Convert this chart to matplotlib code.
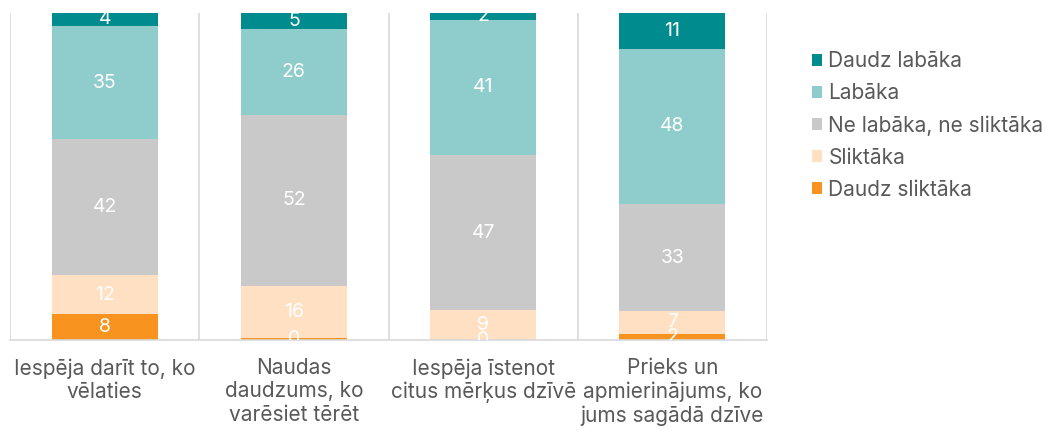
import matplotlib
matplotlib.use("Agg")
import matplotlib.pyplot as plt
from matplotlib.patches import Patch
import numpy as np

plt.rcParams['font.family'] = ['Inter', 'DejaVu Sans']

categories = ["Iespēja darīt to, ko\nvēlaties",
              "Naudas\ndaudzums, ko\nvarēsiet tērēt",
              "Iespēja īstenot\ncitus mērķus dzīvē",
              "Prieks un\napmierinājums, ko\njums sagādā dzīve"]
series_names = ["Daudz sliktāka", "Sliktāka", "Ne labāka, ne sliktāka", "Labāka", "Daudz labāka"]
daudz_sliktaka = [8, 0.5, 0, 2]
sliktaka = [12, 16, 9, 7]
ne_labaka = [42, 52, 47, 33]
labaka = [35, 26, 41, 48]
daudz_labaka = [4, 5, 2, 11]
colors = ["#F7931E", "#FFE0C2", "#C9C9C9", "#8FCCCC", "#008C8F"]

series = [daudz_sliktaka, sliktaka, ne_labaka, labaka, daudz_labaka]
totals = np.sum(np.array(series, dtype=float), axis=0)

fig = plt.figure(figsize=(10.46, 4.30), dpi=100)
ax = fig.add_axes([0.0096, 0.209, 0.7237, 0.761])

x = np.arange(len(categories))
bottom = np.zeros(len(categories))
for vals, col in zip(series, colors):
    vals = np.array(vals, dtype=float)
    h = vals / totals * 100.0  # 100% stacked
    ax.bar(x, h, bottom=bottom, width=0.56, color=col, zorder=2)
    for xi, b, hh, v in zip(x, bottom, h, vals):
        ax.text(xi, b + hh / 2, f"{v:.0f}", ha='center', va='center',
                color='white', fontsize=14, clip_on=True, zorder=3)
    bottom += h

ax.set_xlim(-0.5, len(categories) - 0.5)
ax.set_ylim(0, 100)
for bx in np.arange(-0.5, len(categories), 1.0):
    ax.axvline(bx, color='#D9D9D9', lw=1.2, zorder=1)

for s in ['top', 'left', 'right']:
    ax.spines[s].set_visible(False)
ax.spines['bottom'].set_color('#D9D9D9')
ax.spines['bottom'].set_linewidth(1.2)
ax.set_yticks([])
ax.set_xticks(x)
ax.set_xticklabels(categories, fontsize=15, color='#595959', linespacing=1.2)
ax.tick_params(axis='x', length=0, pad=13)

handles = [Patch(facecolor=c, edgecolor='none') for c in colors[::-1]]
fig.legend(handles, series_names[::-1], loc='upper left',
           bbox_to_anchor=(0.758, 0.925), frameon=False, fontsize=15,
           handlelength=0.5, handleheight=0.5, handletextpad=0.3,
           labelspacing=0.58, labelcolor='#595959')

fig.savefig("out.png", dpi=100)
